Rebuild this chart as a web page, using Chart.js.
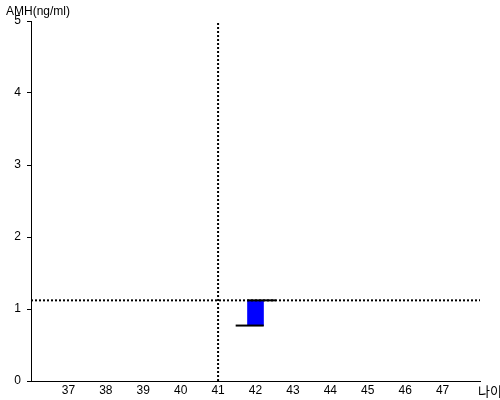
<!DOCTYPE html>
<html>
<head>
<meta charset="utf-8">
<script src="https://cdn.jsdelivr.net/npm/chart.js@4/dist/chart.umd.min.js"></script>
<style>
  html, body { margin:0; padding:0; background:#fff; }
</style>
</head>
<body>
<canvas id="c" width="500" height="400"></canvas>
<script>
// --- data ---
const xTicks = [37, 38, 39, 40, 41, 42, 43, 44, 45, 46, 47];
const yTicks = [0, 1, 2, 3, 4, 5];
const refAge = 41;      // 기준 나이 (세로 점선)
const refAmh = 1.12;    // 기준 AMH (가로 점선)
const boxAge = [42];
const boxLow = [0.77];
const boxHigh = [1.12];
const lowSpan = [-0.53, 0.22];   // 아래 선 범위 (나이 기준)
const highSpan = [-0.22, 0.54];  // 위 선 범위

const xMin = 36, xMax = 48, yMin = 0, yMax = 5;

const dotted = (pts) => ({
    type:'line', data:pts, borderColor:'#000', borderWidth:2,
    borderDash:[2,2], pointRadius:0, fill:false, order:0
});
const solid = (pts) => ({
    type:'line', data:pts, borderColor:'#000', borderWidth:2,
    pointRadius:0, fill:false, order:0
});

const datasets = [
    {
        type:'bar',
        data: boxAge.map((a,i) => ({x:a, y:[boxLow[i], boxHigh[i]]})),
        backgroundColor:'#0000ff', borderWidth:0, barThickness:16, order:2
    },
    dotted([{x:refAge, y:yMin}, {x:refAge, y:yMax}]),
    dotted([{x:xMin, y:refAmh}, {x:xMax, y:refAmh}]),
];
boxAge.forEach((a,i) => {
    datasets.push(solid([{x:a+lowSpan[0], y:boxLow[i]}, {x:a+lowSpan[1], y:boxLow[i]}]));
    datasets.push(solid([{x:a+highSpan[0], y:boxHigh[i]}, {x:a+highSpan[1], y:boxHigh[i]}]));
});

// 축 제목 텍스트
const labelsPlugin = {
    id:'labels',
    afterDraw(chart){
        const ctx = chart.ctx;
        ctx.save();
        ctx.fillStyle = '#000';
        ctx.textBaseline = 'alphabetic';
        ctx.font = '12px "Liberation Sans", Arial, sans-serif';
        ctx.textAlign = 'left';
        ctx.fillText('AMH(ng/ml)', 6, 15);
        ctx.font = '13px "Noto Sans CJK KR", sans-serif';
        ctx.fillText('나이', 478, 396);
        ctx.restore();
    }
};

new Chart(document.getElementById('c'), {
    type:'bar',
    data:{ datasets },
    plugins:[labelsPlugin],
    options:{
        responsive:false,
        animation:false,
        layout:{ padding:{ top:21, right:20, left:0, bottom:0 } },
        plugins:{ legend:{display:false}, tooltip:{enabled:false} },
        scales:{
            x:{
                type:'linear', min:xMin, max:xMax, offset:false,
                grid:{ display:false, drawTicks:false, tickLength:0 },
                border:{ color:'#000', width:1 },
                ticks:{
                    stepSize:1, autoSkip:false, maxRotation:0, padding:2,
                    color:'#000', font:{ family:'"Liberation Sans", Arial, sans-serif', size:12 },
                    callback:(v) => xTicks.includes(v) ? String(v) : ''
                },
                afterFit:(s) => { s.height = 19; }
            },
            y:{
                type:'linear', min:yMin, max:yMax,
                grid:{ display:true, drawOnChartArea:false, drawTicks:true, tickLength:4, color:'#000' },
                border:{ color:'#000', width:1 },
                ticks:{
                    stepSize:1, padding:6, color:'#000',
                    font:{ family:'"Liberation Sans", Arial, sans-serif', size:12 },
                    callback:(v) => yTicks.includes(v) ? String(v) : ''
                },
                afterFit:(s) => { s.width = 31; }
            }
        }
    }
});
</script>
</body>
</html>
